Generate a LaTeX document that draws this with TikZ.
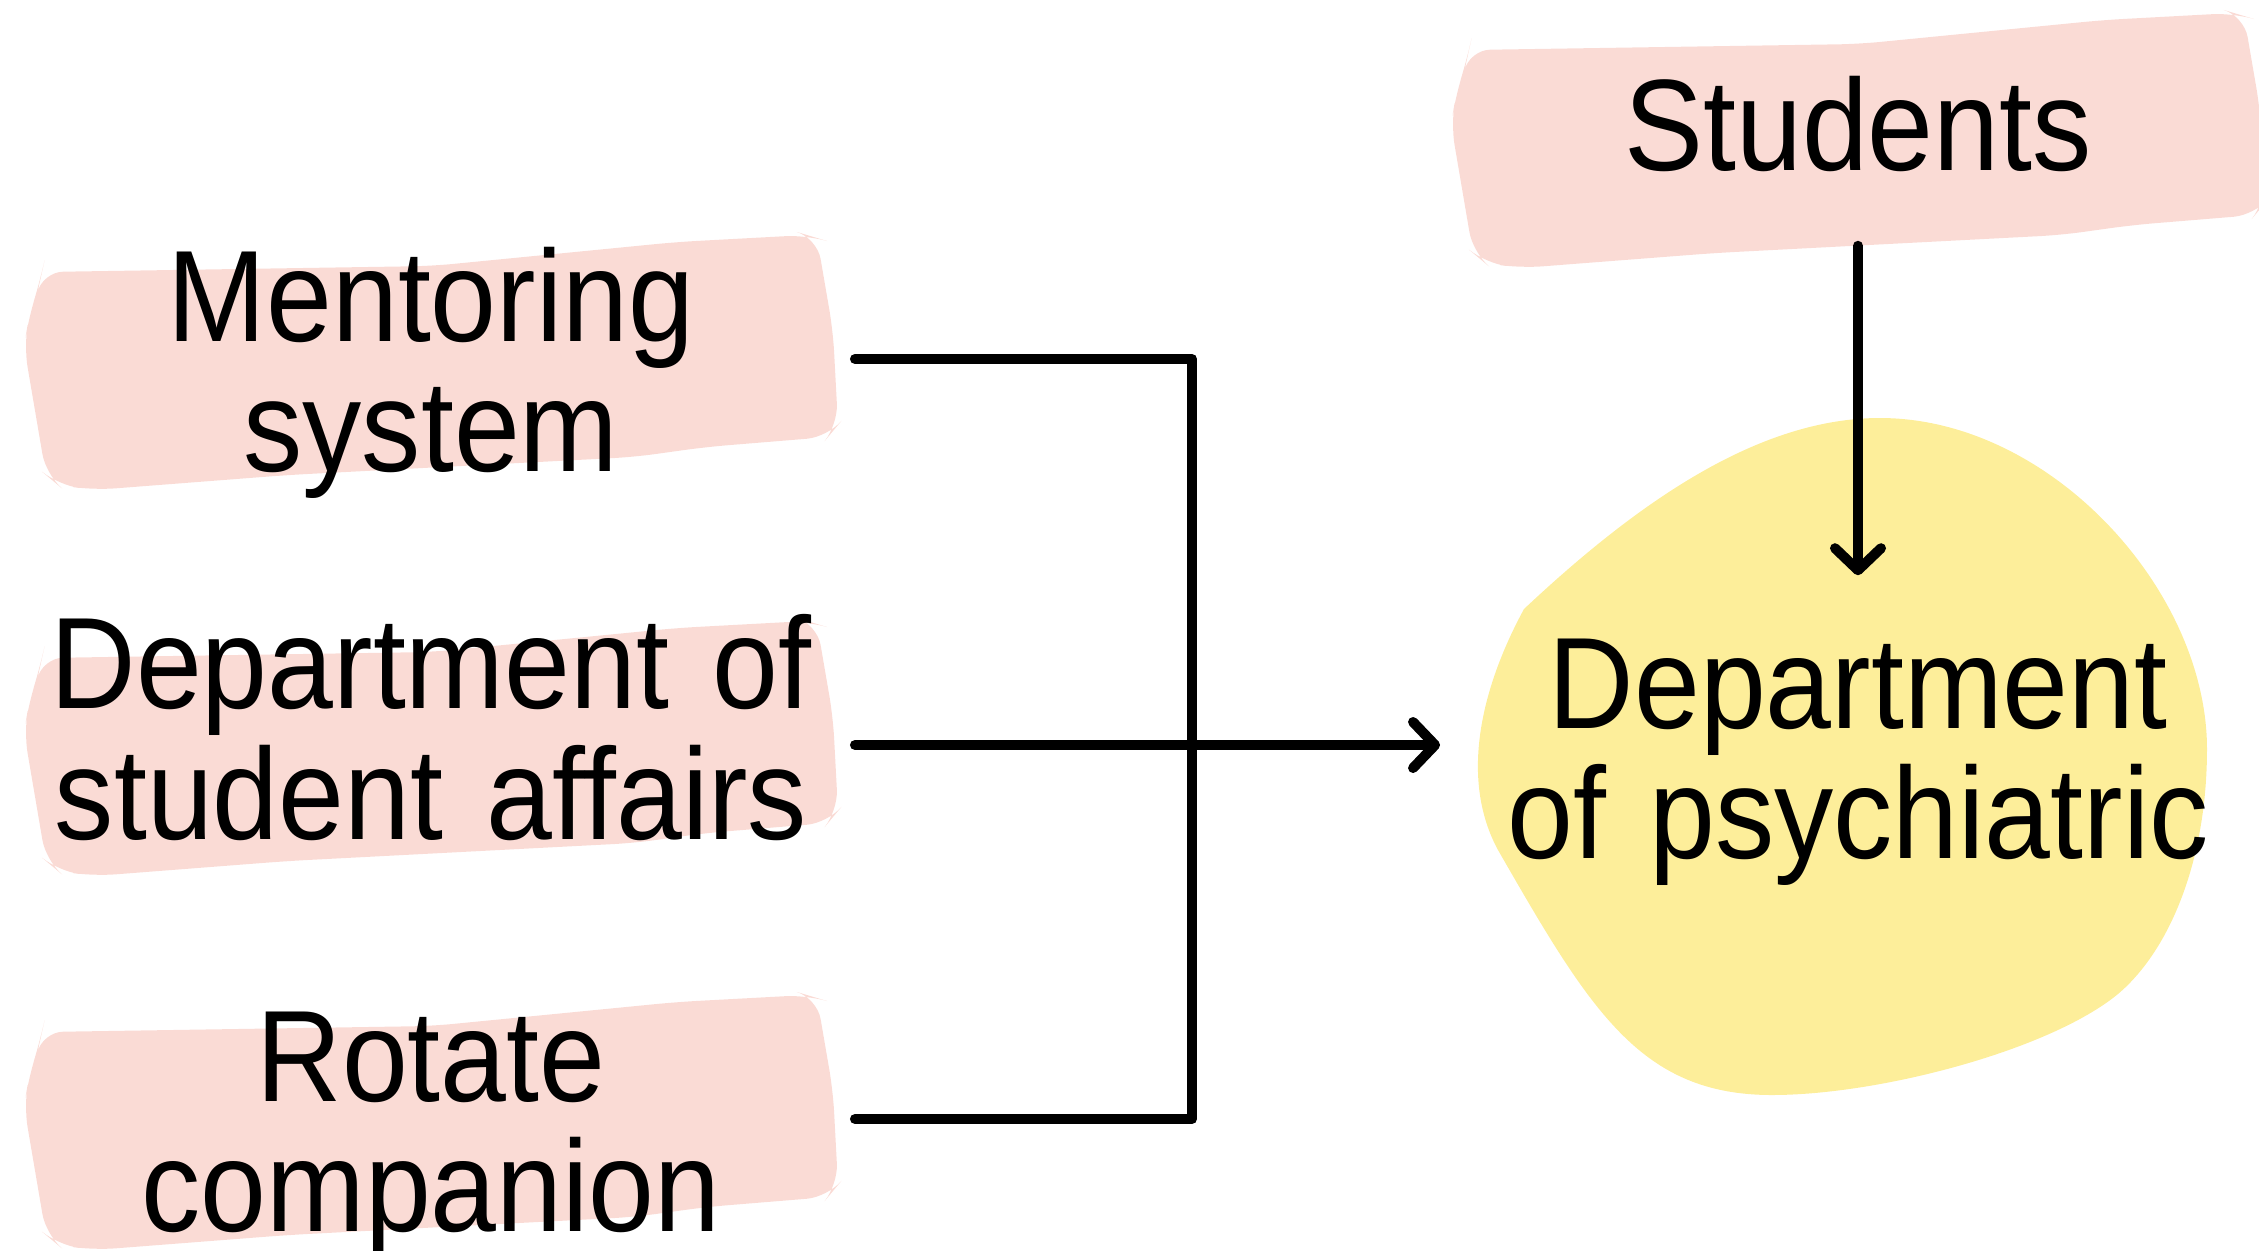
\documentclass[tikz,border=0pt]{standalone}
\usepackage{fontspec}
\setmainfont{Liberation Sans}[FakeStretch=0.91]
\usetikzlibrary{arrows.meta}
\definecolor{brushpink}{HTML}{FADBD5}
\definecolor{blobyellow}{HTML}{FDEE9A}

\begin{document}
\begin{tikzpicture}[
  x=0.01cm, y=-0.01cm,
  every node/.style={align=center, inner sep=0pt, font=\fontsize{37}{37}\selectfont},
  side/.style={text width=8.46cm, text height=1.22cm, text depth=1.58cm},
  link/.style={line width=0.1cm, line cap=round, line join=round},
  arrow/.style={link, -{Straight Barb[length=0.22cm, width=0.46cm, round]}},
  brush/.pic={\fill[brushpink, rounded corners=6pt] (-389,-87) -- (1,-93) -- (246,-117) -- (376,-124) -- (386,-121) -- (402,-28) -- (407,66) -- (397,78) -- (275,88) -- (203,98) -- (-143,116) -- (-337,131) -- (-373,126) -- (-385,116) -- (-407,-13) -- (-402,-42) -- (-391,-78) -- cycle;}
]
\useasboundingbox (0,0) rectangle (2259,1250);

\fill[blobyellow] (1524,609) .. controls (1640,500) and (1760,418) .. (1880,418)
  .. controls (2050,418) and (2207,590) .. (2207,749)
  .. controls (2207,860) and (2170,950) .. (2118,994)
  .. controls (2050,1050) and (1880,1095) .. (1772,1095)
  .. controls (1640,1095) and (1590,1010) .. (1498,850)
  .. controls (1460,780) and (1480,690) .. (1524,609) -- cycle;
\pic at (431,359) {brush};
\pic at (431,745) {brush};
\pic at (431,1119) {brush};
\pic at (1858,137) {brush};

\node[side] (mentor) at (431,359) {Mentoring\\system};
\node[side, text height=0.86cm] (affairs) at (431,745) {Department of\\student affairs};
\node[side] (rotate) at (431,1119) {Rotate\\companion};
\node[text width=8.34cm, text height=1.41cm, text depth=0.75cm] (students) at (1858,137) {Students};
\node[text width=8.34cm, text height=1.52cm, text depth=1.6cm] (psych) at (1858,732) {Department\\of psychiatric};
\coordinate (bus) at (1192,0);

\draw[link] (mentor.east) -- (mentor.east -| bus) -- (rotate.east -| bus) -- (rotate.east);
\draw[arrow] (affairs.east) -- (affairs.east -| psych.west);
\draw[arrow] (students.south) -- (psych.north);
\end{tikzpicture}
\end{document}
